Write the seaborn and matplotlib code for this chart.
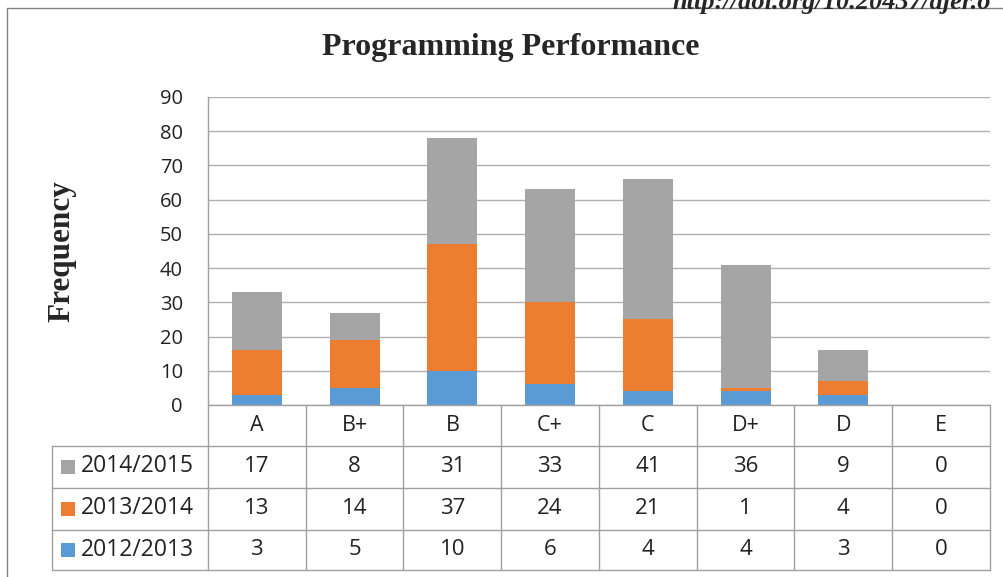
import matplotlib.pyplot as plt
import numpy as np
import pandas as pd
import seaborn as sns

# Chart data
grades = ["A", "B+", "B", "C+", "C", "D+", "D", "E"]
y2012 = [3, 5, 10, 6, 4, 4, 3, 0]
y2013 = [13, 14, 37, 24, 21, 1, 4, 0]
y2014 = [17, 8, 31, 33, 41, 36, 9, 0]
series_names = ["2012/2013", "2013/2014", "2014/2015"]
colors = ["#5B9BD5", "#ED7D31", "#A5A5A5"]

df = pd.DataFrame({"grade": grades, "2012/2013": y2012,
                   "2013/2014": y2013, "2014/2015": y2014})

sns.set_style("white")
plt.rcParams["font.family"] = ["Open Sans", "DejaVu Sans"]

W, H = 1004, 577
fig = plt.figure(figsize=(W / 100, H / 100), dpi=100)

# plot area in pixels
left, right, top, bottom = 208, 990, 97, 405
ax = fig.add_axes([left / W, 1 - bottom / H, (right - left) / W, (bottom - top) / H])

# stacked bars, bottom layer first
base = np.zeros(len(grades))
for name, col in zip(series_names, colors):
    sns.barplot(data=df, x="grade", y=name, color=col, width=0.51,
                bottom=base, ax=ax, saturation=1, linewidth=0, zorder=3)
    base = base + df[name].to_numpy()

ax.set_xlim(-0.5, len(grades) - 0.5)
ax.set_ylim(0, 90)
ax.set_yticks(range(0, 91, 10))
ax.set_xticks([])
ax.set_xlabel("")
ax.set_ylabel("")
ax.tick_params(axis="y", labelsize=14.5, length=0, pad=18, labelcolor="#222222")
ax.yaxis.grid(True, color="#B0B0B0", linewidth=1, zorder=0)
for s in ["top", "right", "bottom"]:
    ax.spines[s].set_visible(False)
ax.spines["left"].set_color("#A0A0A0")
ax.spines["left"].set_linewidth(1)

# overlay in pixel coordinates for title, table and frame
ov = fig.add_axes([0, 0, 1, 1], zorder=5)
ov.set_xlim(0, W)
ov.set_ylim(H, 0)
ov.axis("off")
ov.patch.set_alpha(0)

ov.text(511, 47, "Programming Performance", ha="center", va="center",
        fontsize=23, fontweight="bold", family="Liberation Serif")
ov.text(62, 251, "Frequency", ha="center", va="center", rotation=90,
        fontsize=22.5, fontweight="bold", family="Liberation Serif")

# journal header, cut off at the top edge as in the source page
ov.text(672, 3, "http://doi.org/10.20437/ajer.o", ha="left", va="center",
        fontsize=19, fontweight="bold", style="italic", family="Liberation Serif")

# frame lines
lc = "#808080"
ov.plot([7, W], [8, 8], color=lc, lw=1)
ov.plot([7, 7], [8, H], color=lc, lw=1)

# data table
tc = "#A0A0A0"
colw = (right - left) / len(grades)
rows_y = [405, 445.5, 487.5, 529.5, 570]
lab_left = 52
ov.plot([left, right], [rows_y[0], rows_y[0]], color=tc, lw=1)
for yy in rows_y[1:]:
    ov.plot([lab_left, right], [yy, yy], color=tc, lw=1)
ov.plot([lab_left, lab_left], [rows_y[1], rows_y[-1]], color=tc, lw=1)
for i in range(len(grades) + 1):
    xx = left + i * colw
    ov.plot([xx, xx], [rows_y[0], rows_y[-1]], color=tc, lw=1)

# category labels
for i, g in enumerate(grades):
    ov.text(left + (i + 0.5) * colw, (rows_y[0] + rows_y[1]) / 2, g,
            ha="center", va="center", fontsize=15.5, color="#222222")

table_order = [("2014/2015", y2014, colors[2]),
               ("2013/2014", y2013, colors[1]),
               ("2012/2013", y2012, colors[0])]
for r, (name, vals, col) in enumerate(table_order):
    yc = (rows_y[r + 1] + rows_y[r + 2]) / 2
    ov.add_patch(plt.Rectangle((61, yc - 7), 14, 14, color=col, lw=0))
    ov.text(81, yc, name, ha="left", va="center", fontsize=16.5, color="#222222")
    for i, v in enumerate(vals):
        ov.text(left + (i + 0.5) * colw, yc, str(v), ha="center", va="center",
                fontsize=16, color="#222222")

fig.savefig("out.png", dpi=100)
